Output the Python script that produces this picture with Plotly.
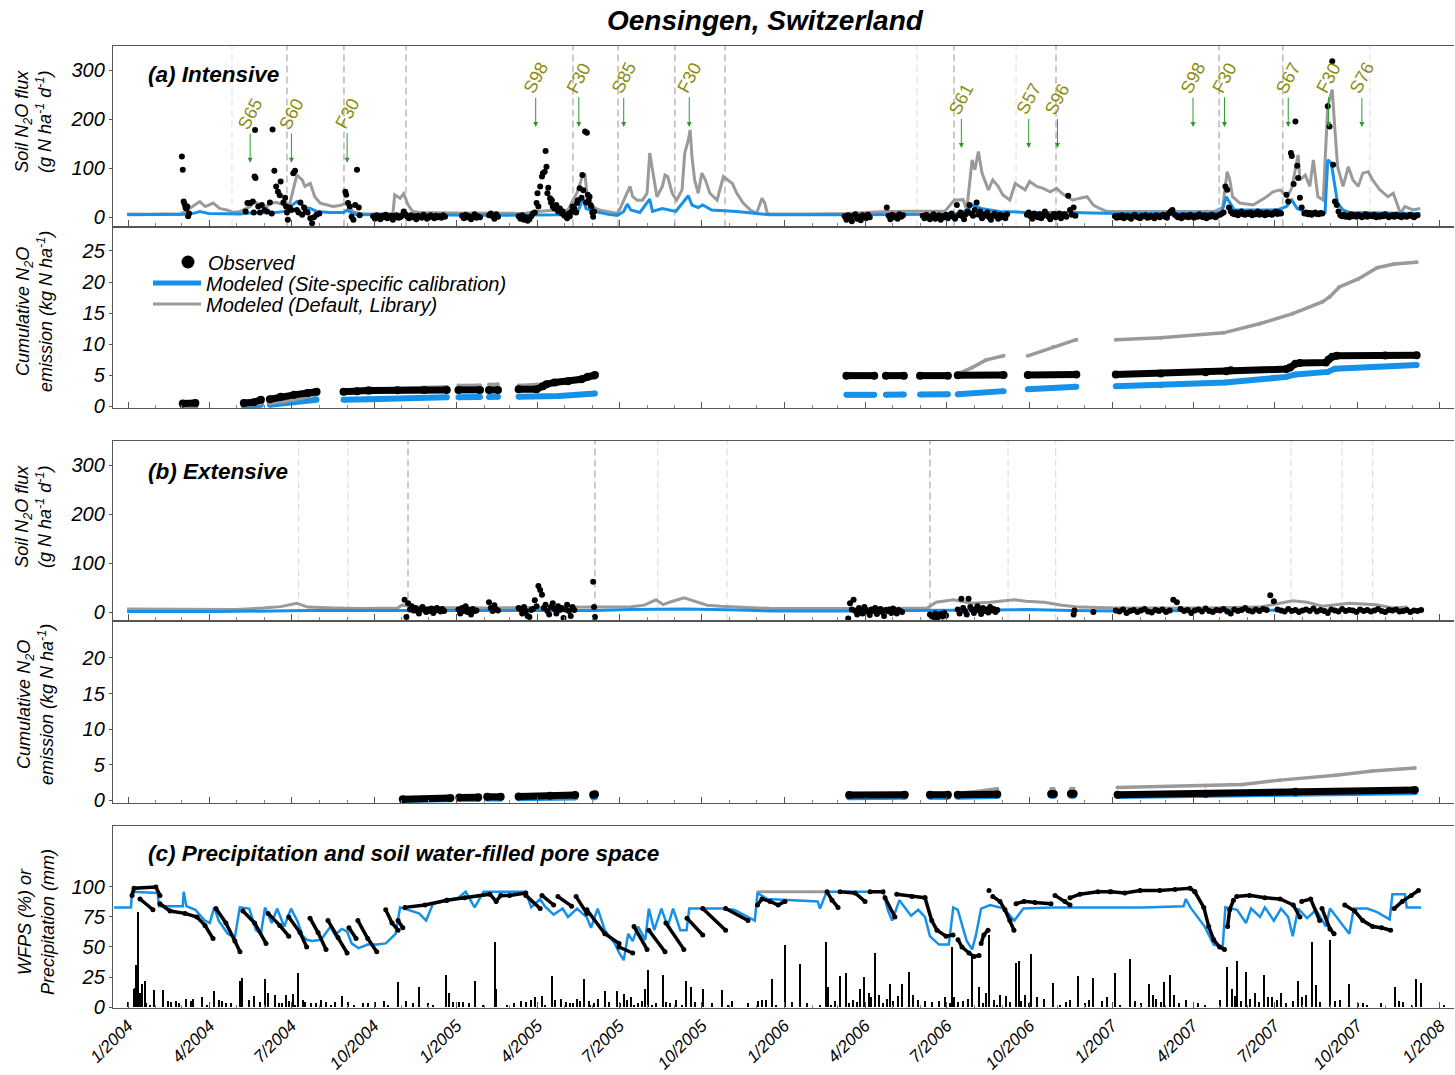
import pandas as pd
import plotly.graph_objects as go

BASE = pd.Timestamp("2004-01-01")

# ======================= DATA (x = days since 1 Jan 2004) =======================
EVENT_LABELS = ["S65", "S60", "F30", "S98", "F30", "S85", "F30", "S61", "S57", "S96",
                "S98", "F30", "S67", "F30", "S76"]
EVENT_DAYS = [136, 182, 244, 454, 502, 552, 625, 928, 1003, 1035, 1186, 1221, 1292, 1337, 1374]
EVENT_ARROW_TIP = [111, 111, 111, 184, 184, 184, 184, 141, 141, 141, 184, 184, 184, 184, 184]

A_LINES_DARK = [177, 240.5, 309.6, 495.5, 545.7, 609, 664.8, 919.8, 1033.4, 1215, 1286]
A_LINES_LIGHT = [115.8, 878.6, 988.9, 1383]
B_LINES_DARK = [311.8, 520, 893]
B_LINES_LIGHT = [190, 245, 590, 667, 980, 1033, 1295, 1352, 1386]

# ---- (a) flux, modeled default (gray)
A_DEF_DAYS = [-1, 20, 40, 58, 66, 80, 86, 95, 102, 110, 117, 125, 136, 141, 147, 155, 158, 166, 173, 180,
              188, 194, 197, 203, 208, 214, 222, 228, 236, 244, 250, 258, 266, 295, 297, 303, 307, 312, 317,
              325, 360, 400, 440, 456, 470, 490, 500, 506, 509, 512, 516, 525, 540, 545, 549, 556, 559, 562,
              567, 573, 578, 581, 585, 589, 595, 598, 601, 606, 611, 617, 620, 624, 626, 628, 631, 635, 639,
              643, 648, 656, 663, 668, 673, 678, 685, 693, 700, 706, 709, 712, 715, 760, 800, 845, 880, 910,
              920, 930, 934, 940, 943, 947, 951, 954, 958, 963, 969, 974, 982, 988, 993, 999, 1004, 1012,
              1019, 1027, 1034, 1040, 1046, 1052, 1060, 1068, 1075, 1082, 1090, 1100, 1150, 1210, 1219, 1224,
              1227, 1230, 1238, 1253, 1268, 1275, 1283, 1291, 1296, 1300, 1303, 1305, 1311, 1316, 1320, 1325,
              1331, 1336, 1341, 1344, 1347, 1353, 1359, 1364, 1370, 1375, 1381, 1386, 1394, 1403, 1409, 1417,
              1422, 1431, 1439]
A_DEF = [7, 6, 7, 6, 15, 32, 22, 29, 18, 15, 10, 12, 22, 32, 25, 22, 29, 30, 25, 27,
         86, 76, 63, 69, 42, 29, 25, 22, 24, 29, 12, 8, 7, 7, 46, 39, 48, 25, 12,
         10, 9, 8, 8, 12, 14, 15, 50, 83, 86, 30, 22, 15, 10, 8, 22, 49, 63, 42,
         35, 35, 49, 131, 90, 42, 63, 86, 83, 49, 35, 56, 131, 158, 178, 124, 76, 49, 90,
         76, 49, 35, 83, 76, 69, 49, 29, 15, 8, 39, 29, 8, 7, 7, 8, 12, 12, 13,
         35, 36, 15, 117, 97, 134, 90, 76, 56, 76, 63, 46, 35, 69, 63, 56, 73, 63,
         59, 52, 59, 49, 42, 35, 39, 42, 25, 18, 12, 12, 12, 12, 20, 93,
         76, 42, 29, 25, 42, 52, 56, 42, 60, 97, 127, 76, 86, 63, 117, 42,
         35, 226, 260, 178, 103, 63, 103, 76, 63, 90, 93, 76, 56, 42, 49, 8,
         22, 15, 18]

# ---- (a) flux, modeled site-specific (blue)
A_CAL_DAYS = [-1, 40, 66, 75, 80, 90, 110, 125, 136, 145, 160, 175, 183, 188, 192, 197, 203, 210, 225, 240,
              244, 248, 255, 300, 307, 315, 400, 450, 480, 500, 504, 506, 510, 520, 535, 545, 552, 556, 560,
              570, 581, 584, 595, 610, 624, 628, 635, 640, 650, 678, 700, 715, 800, 900, 925, 935, 940, 950,
              970, 1000, 1050, 1100, 1200, 1218, 1223, 1227, 1232, 1280, 1290, 1296, 1302, 1310, 1333, 1336,
              1340, 1344, 1347, 1353, 1360, 1439]
A_CAL = [5, 5, 6, 9, 12, 8, 8, 7, 9, 10, 9, 12, 25, 32, 28, 20, 18, 12, 10, 10,
         15, 10, 5, 6, 8, 5, 4, 4, 5, 8, 25, 42, 18, 12, 6, 4, 12, 27, 15,
         10, 37, 12, 18, 12, 44, 25, 20, 25, 15, 12, 8, 5, 5, 6, 8, 15, 25, 18,
         12, 10, 10, 8, 8, 10, 42, 29, 15, 15, 22, 35, 18, 12, 10, 117,
         110, 63, 29, 15, 10, 8]

# ---- (a) flux, observed (irregular points)
A_OBS_DAYS = [60, 61, 62, 63, 64, 65, 66, 67, 68,
              131, 133, 136, 139, 140, 141, 142, 141.5, 145, 147, 149, 152, 155, 158, 160, 161, 163, 165,
              167, 169, 170, 173, 175, 176, 177, 178, 180, 182, 184, 186, 188, 190, 192, 194, 196, 198, 200,
              203, 205, 207, 210, 213,
              242, 243, 245, 247, 249, 251, 253, 255, 257, 258,
              435, 437, 439, 441, 443, 445, 447, 449, 451, 453, 455, 456, 457, 459, 461, 462, 464, 465, 466,
              467, 468, 470, 471, 472, 473, 475, 477, 479, 481, 483, 484, 486, 488, 489, 491, 492, 494, 495,
              497, 499, 500, 501, 503, 505, 506, 507, 509, 510, 511, 512, 513, 514, 515, 516, 517, 518, 519,
              1290, 1292, 1295, 1296, 1298, 1300, 1302, 1303, 1305, 1307,
              1336, 1338, 1341, 1342, 1344, 1346, 1348]
A_OBS = [124, 97, 32, 27, 20, 18, 22, 2, 8,
         12, 29, 29, 32, 10, 83, 80, 178, 22, 10, 25, 15, 12, 30, 8, 179, 95, 63,
         52, 45, 73, 30, 40, 22, 10, -5, 20, 15, 90, 95, 15, 10, 30, 5, 20, 12, 10,
         -2, -12, 0, 5, 8,
         52, 46, 29, 22, 1, -5, 25, 97, 20, 4,
         2, -3, 4, -5, 0, -7, -4, 2, 8, 10, 29, 49, 22, 63, 83, 90, 93, 135, 103,
         49, 60, 39, 30, 35, 22, 18, 25, 12, 18, 8, 12, 3, 5, -2, 8, 2, 12, 22,
         18, 10, 29, 35, 59, 40, 86, 55, 175, 30, 172, 46, 35, 42, 25, 22, 10, 1, 12,
         46, 32, 131, 125, 68, 195, 105, 80, 40, 20,
         226, 185, 318, 107, 32, 25, 12]
# ---- (a) flux, observed (regular campaign runs: start day, step, values)
A_OBS_RUNS = [
    (273, 2, [2, -3, 4, 1, -4, 3, 0, 5, -2, 1, 3, -5, 2, 4, -1, 0, 3, 12, 6, 1, -2, 4, 0, 2, -4, 3, 1,
              -1, 5, 2, -3, 0, 4, 1, -2, 3, 0, 2, -1, 4, 1]),
    (372, 2, [3, -2, 5, 0, 2, -4, 1, 6, -1, 2, 0]),
    (402, 2, [4, 8, 2, -3, 6, 1]),
    (798, 2, [2, -5, 4, 0, -8, 3, 6, -3, 1, -6, 4, 2, -2, 5, 0]),
    (845, 2, [20, 3, -4, 5, 0, 2, -3, 6, 1, 4]),
    (885, 2, [3, -2, 5, 0, -4, 2, 6, -3, 1, 4, -5, 2, 0, 5, -2, 3, 8, 1, -3, 25, 4, 10, 2, -4, 6, 12,
              25, 8, 3, 15, 30, 5, 12, -2, 6, 3, 10, 0, -5, 4, 8, 2, -3, 5, 0, 3, -2, 6]),
    (1001, 2, [5, 10, 2, -3, 8, 4, 0, 6, -2, 3, 12, 5, 1, -4, 2, 7, 0, 4, 8, -2, 3, 6, 1, 44, 15, 5,
               20, 3]),
    (1099, 2, [2, -1, 3, 0, 4, -2, 1, 3, 0, -3, 2, 5, 1, 0, -2, 3, 2, 4, -1, 0, 3, 1, -2, 4, 2, 0, 3,
               5, 1, -1, 8, 12, 15, 6, 3, 0, 2, -2, 4, 1, 3, 0, 5, 2, -1, 3, 1, 6, 2, 0, 4, -2, 3, 1,
               5, 2, 0, 3]),
    (1216, 2, [5, 8, 10, 63, 56, 20, 12, 8, 6, 10, 4, 8, 12, 6, 5, 9, 7, 10, 4, 8, 6, 12, 5, 9, 7, 4,
               10, 6, 8, 5, 9, 12, 7, 10, 8]),
    (1310, 2, [8, 10, 6, 9, 5, 8, 10, 7, 6, 9, 8]),
    (1350, 2, [4, 2, 5, 1, 3, 0, 6, 2, 4, 1, 5, 3, 0, 2, 6, 1, 4, 3, 2, 5, 0, 3, 1, 4, 2, 6, 3, 0, 2,
               4, 1, 5, 2, 3, 0, 4, 2, 1, 3, 5, 2, 0, 3, 4]),
]

# ---- (a) cumulative (kg N/ha), None = gap between campaigns
A_CUM_OBS_DAYS = [61, 75, None, 129, 140, 148, None, 158, 170, 185, 200, 210, None, 240, 255, 267, None,
                  269, 300, 330, 355, None, 368, 392, None, 402, 412, None, 435, 455, 462, 466, 475, 490,
                  505, 512, 520, None, 800, 831, None, 844, 864, None, 882, 913, None, 924, 975, None,
                  1002, 1056, None, 1100, 1150, 1200, 1223, 1228, 1290, 1294, 1300, 1305, 1334, 1337, 1341,
                  1346, 1400, 1435]
A_CUM_OBS = [0.4, 0.5, None, 0.5, 0.6, 1.0, None, 1.1, 1.5, 1.8, 2.1, 2.3, None, 2.3, 2.4, 2.5, None,
             2.5, 2.55, 2.6, 2.6, None, 2.6, 2.6, None, 2.6, 2.6, None, 2.7, 2.7, 3.2, 3.5, 3.8, 4.0,
             4.3, 4.7, 5.0, None, 4.9, 4.9, None, 4.9, 4.9, None, 4.9, 4.9, None, 4.95, 5.0, None,
             5.0, 5.1, None, 5.1, 5.25, 5.45, 5.6, 5.75, 5.95, 6.2, 6.8, 6.95, 7.0, 7.5, 7.95,
             8.1, 8.15, 8.2]
A_CUM_CAL_DAYS = [61, 75, None, 129, 148, None, 158, 185, 210, None, 240, 267, None, 269, 355, None,
                  368, 392, None, 402, 412, None, 435, 480, 520, None, 800, 831, None, 844, 864, None,
                  882, 913, None, 924, 975, None, 1002, 1056, None, 1100, 1150, 1222, 1290, 1300, 1336,
                  1344, 1435]
A_CUM_CAL = [0.0, 0.05, None, 0.0, 0.2, None, 0.2, 0.6, 1.0, None, 1.0, 1.1, None, 1.1, 1.4, None,
             1.4, 1.45, None, 1.45, 1.5, None, 1.5, 1.6, 2.0, None, 1.8, 1.8, None, 1.8, 1.85, None,
             1.85, 1.9, None, 1.9, 2.4, None, 2.7, 3.1, None, 3.2, 3.35, 3.8, 4.7, 5.1, 5.5,
             6.0, 6.6]
A_CUM_DEF_DAYS = [61, 75, None, 129, 148, None, 158, 185, 210, None, 240, 267, None, 269, 355, None,
                  368, 392, None, 402, 412, None, 435, 455, 480, 520, None, 800, 831, None, 844, 864, None,
                  882, 913, None, 924, 940, 955, 975, None, 1002, 1030, 1056, None, 1100, 1150, 1220, 1261,
                  1297, 1330, 1338, 1349, 1370, 1391, 1410, 1435]
A_CUM_DEF = [0.0, 0.1, None, 0.2, 0.4, None, 0.4, 1.0, 1.8, None, 2.4, 2.6, None, 2.7, 3.1, None,
             3.3, 3.35, None, 3.45, 3.5, None, 3.3, 3.45, 3.9, 4.5, None, 5.0, 5.0, None, 5.0, 5.0, None,
             5.0, 5.0, None, 5.2, 6.2, 7.4, 8.1, None, 8.1, 9.5, 10.7, None, 10.7, 11.0, 11.8, 13.3,
             14.9, 16.8, 17.6, 19.2, 20.5, 22.3, 22.9, 23.2]

# ---- (b) flux, modeled
B_DEF_DAYS = [-1, 60, 120, 150, 170, 188, 200, 230, 260, 300, 305, 330, 400, 450, 500, 530, 560, 575,
              588, 596, 603, 619, 630, 645, 660, 690, 717, 800, 890, 900, 919, 940, 960, 987, 1000, 1020,
              1040, 1060, 1100, 1200, 1260, 1297, 1313, 1330, 1360, 1390, 1410, 1425]
B_DEF = [6, 5, 5, 8, 11, 18, 10, 8, 7, 8, 14, 9, 8, 9, 10, 11, 11, 14,
         25, 15, 20, 29, 22, 14, 12, 10, 7, 7, 8, 20, 25, 18, 20, 25, 22, 20,
         14, 10, 8, 8, 10, 23, 20, 12, 18, 15, 8, 10]
B_CAL_DAYS = [-1, 100, 200, 300, 400, 520, 560, 620, 680, 720, 800, 900, 950, 1000, 1050, 1100, 1200,
              1300, 1425]
B_CAL = [1, 1, 3, 3, 2, 3, 5, 6, 4, 2, 2, 3, 5, 5, 3, 2, 3, 4, 3]

B_OBS_DAYS = [518, 519, 520, 1053, 1054, 1075]
B_OBS = [62, 10, -10, -5, 3, 0]
B_OBS_RUNS = [
    (308, 2, [25, -10, 18, 5, 12, 3, 8, 2, -3, 6, 10, 4, 0, 5, 2, 7, -2, 3, 8, 4, 1, 6, 2]),
    (368, 2, [5, -3, 8, 2, 12, 0, 4, -5, 6, 2, 3]),
    (402, 2, [20, 8, 2, 14, 5, 3]),
    (435, 2, [8, 5, -3, 10, 2, -8, -10, 4, 6, 24, 12, 53, 45, 35, 8, 15, 2, -5, 10, 18, 6, -3, 12, 4, 8,
              -12, 5, 15, 2, -8, 10, 4]),
    (802, 2, [-13, 18, 5, 25, 2, -5, 8, 3, -3, 10, 4, 0, -6, 5, 2, 8, -4, 3, 6, 0, -8, 4, 2, 5, -2, 7, 1,
              -3, 4, 2, 0]),
    (893, 2, [-5, -8, -10, -3, -12, -6, -4, -9, -2, -7]),
    (924, 2, [5, -3, 27, 8, 2, -5, 27, 10, 4, -2, 6, 12, 3, -4, 8, 2, 5, -1, 10, 3, 6, 0, 4]),
    (1100, 4, [3, 1, 5, -2, 2, 4, 0, 3, 6, 1, -1, 4, 2, 5, 0, 3, 25, 20, 6, 2, 4, -2, 3, 5, 1, 7, 2, 0,
               4, 3, 6, 1, -3, 5, 2, 4, 8, 3, 1, 5, 2, 6, 4, 34, 22, 5, 3, 1, 6, 2, 4, 0, 3, 5, 2, 7, 1,
               4, 2, -2, 5, 3, 1, 6, 2, 4, 3, 0, 5, 2, 4, 1, 3, 6, 2, 0, 4, 3, 5, 1, 2, 4, 0, 3, 2, 4]),
]

# ---- (b) cumulative
B_CUM_OBS_DAYS = [306, 359, None, 369, 390, None, 400, 415, None, 435, 470, 498, None, 518, 520, None,
                  803, 865, None, 893, 913, None, 924, 968, None, 1028, 1031, None, 1050, 1053, None,
                  1102, 1200, 1300, 1433]
B_CUM_OBS = [0.1, 0.3, None, 0.35, 0.4, None, 0.45, 0.45, None, 0.5, 0.6, 0.7, None, 0.75, 0.8, None,
             0.7, 0.75, None, 0.75, 0.75, None, 0.75, 0.8, None, 0.85, 0.85, None, 0.9, 0.9, None,
             0.75, 0.9, 1.15, 1.4]
B_CUM_CAL_DAYS = [306, 359, None, 369, 390, None, 400, 415, None, 435, 498, None, 518, 520, None,
                  803, 865, None, 893, 913, None, 924, 968, None, 1028, 1031, None, 1050, 1053, None,
                  1102, 1300, 1433]
B_CUM_CAL = [0.0, 0.1, None, 0.15, 0.15, None, 0.2, 0.2, None, 0.25, 0.35, None, 0.4, 0.4, None,
             0.4, 0.45, None, 0.45, 0.45, None, 0.45, 0.55, None, 0.6, 0.6, None, 0.6, 0.6, None,
             0.55, 0.85, 1.1]
B_CUM_DEF_DAYS = [306, 359, None, 369, 390, None, 400, 415, None, 435, 498, None, 518, 520, None,
                  803, 865, None, 893, 913, None, 924, 945, 968, None, 1028, 1031, None, 1050, 1053, None,
                  1102, 1200, 1241, 1283, 1345, 1386, 1433]
B_CUM_DEF = [0.1, 0.3, None, 0.35, 0.35, None, 0.45, 0.45, None, 0.5, 0.7, None, 0.8, 0.8, None,
             0.7, 0.8, None, 0.8, 0.9, None, 0.95, 1.2, 1.6, None, 1.55, 1.55, None, 1.6, 1.6, None,
             1.75, 2.0, 2.2, 2.8, 3.5, 4.1, 4.5]

# ---- (c) WFPS (%) modeled
WFPS_CAL_DAYS = [-15.6, 3.3, 4.5, 33, 34.5, 61, 62, 65, 75, 85.5, 91, 96, 101, 111, 119, 124.5, 135, 142.5,
                 148, 152.6, 160, 166, 174, 181.5, 189, 194, 199, 205, 215, 220.5, 225.5, 230.5, 238, 244,
                 249, 256.7, 267, 277, 287, 298, 303, 324, 332, 339.6, 349.7, 355, 368, 376, 386, 396, 443,
                 449, 459, 464, 474, 484, 490, 500, 510.7, 515.6, 523, 531, 542, 547, 552, 557, 562, 568,
                 576, 580, 586, 594, 601, 607, 615, 622, 625, 635, 645, 661, 675, 690, 698, 701, 712, 768,
                 770.6, 778, 841, 846, 851, 859, 872, 880, 887.5, 893, 903, 914, 919, 924, 929, 934, 940,
                 944, 950, 960, 975.5, 987, 997, 1028, 1079, 1131, 1175.5, 1178, 1183, 1188, 1199, 1209,
                 1219, 1222, 1235, 1245, 1250.6, 1260.6, 1266, 1276, 1284, 1292, 1297, 1303, 1313, 1323,
                 1334, 1338.5, 1349, 1360, 1365, 1380, 1391, 1405, 1408, 1422, 1424, 1440]
WFPS_CAL = [83, 83, 96, 95, 84, 84, 96, 84, 81, 72, 70, 83, 72, 61, 58, 83, 82, 64,
            61, 83, 70, 82, 67, 82, 71, 60, 56, 55, 56, 62, 67, 60, 65, 63,
            53, 49, 52, 52, 53, 61, 83, 78, 72, 86, 88, 89, 91, 96, 83, 96, 96,
            83, 90, 84, 77, 82, 75, 82, 75, 66, 82, 64, 53, 45, 39, 61, 55, 67,
            56, 82, 64, 82, 67, 82, 64, 64, 82, 82, 82, 82, 81, 75, 72, 95, 90, 88,
            82, 96, 96, 81, 72, 89, 76, 81, 75, 59, 52, 52, 83, 81, 67, 55, 48,
            59, 82, 85, 82, 72, 82, 83, 83, 83, 84, 90, 83, 78, 67, 52,
            50, 83, 81, 70, 82, 75, 83, 72, 82, 75, 59, 82, 74, 81,
            67, 82, 72, 61, 82, 82, 79, 73, 94, 94, 83, 83]
WFPS_DEF_DAYS = [701, 778]
WFPS_DEF = [96, 96]

# ---- (c) WFPS (%) observed, None = break between dry-down sequences
WFPS_OBS_DAYS = [4.5, 6.7, 31, 35.6, None, 13.4, 27.8, None, 35.6, 46.8, 63.5, 76.8, 85.7, 94.7, None,
                 98, 109, 119, 124.7, None, 128, 141, 153.7, None, 156, 169, 179, None, 179, 191.5, 199, None,
                 202.7, 211.6, 220.5, None, 222.7, 233.9, 244, None, 246, 254, None, 256, 267, 277, None,
                 287, 294, 300.7, None, 300.7, 306, None, 308.5, 330.7, 355, None,
                 355, 375, 403, 410, 415, 425, 443, None, 443, 459, None, 461, 474, None, 478.8, 494, None,
                 499, 511, None, 511, 531, 546.8, None, 546.8, 562, None, 563.5, 578, None, 580, 598, None,
                 599, 619, None, 622.5, 640, None, 640, 665.5, None, 665.5, 690.4, None,
                 701, 706, 715, 724, 731.6, None, 778.4, 784, 790.7, None, 793, 809.6, 820.7, None,
                 826.3, 840.8, None, 843, 854, None, 856, 873, 887.5, None, 887.5, 895, 900.9, 910.9, 918.7,
                 None, 924.3, 928.7, 936.5, 942, 947.7, None, 950, 953, 957.7, None, 958.8, None,
                 963, 971, 976.6, 982, 986.6, None, 988.9, 997.8, 1010, 1027.8, None, 1032.3, 1043.4, 1049,
                 None, 1049, 1060, 1080, 1093.5, None, 1094.7, 1110, 1127, 1149, 1166, 1182.6, 1188, None,
                 1188, 1198, 1203.5, 1209, 1215.6, 1221, None, 1224.5, 1226.8, 1231, None,
                 1234.6, 1249, 1266, 1283, 1297.6, 1305, None, 1307, 1317, 1327, None, 1329.6, 1338.5, 1343,
                 None, 1355, 1366, 1375, 1386, 1396, 1406, None, 1410, 1419, 1429, 1437]
WFPS_OBS = [93, 99, 100, 93, None, 90, 81, None, 86, 80, 78, 75, 68, 57, None,
            82, 70, 55, 46, None, 80, 70, 53, None, 78, 68, 59, None, 75, 62, 50, None,
            74, 62, 48, None, 72, 58, 45, None, 66, 57, None, 72, 57, 46, None,
            81, 70, 64, None, 72, 66, None, 83, 85, 89, None,
            89, 91, 94, 88, 93, 93, 95, None, 93, 82, None, 93, 85, None, 92, 84, None,
            92, 78, None, 81, 61, 53, None, 50, 45, None, 67, 48, None, 64, 46, None,
            70, 48, None, 74, 60, None, 82, 64, None, 82, 72, None,
            85, 90, 88, 85, 88, None, 96, 89, 83, None, 96, 95, 88, None,
            96, 96, None, 91, 75, None, 94, 92, 91, None, 91, 72, 64, 59, 60,
            None, 56, 50, 45, 42, 43, None, 53, 60, 64, None, 97, None,
            92, 88, 81, 72, 64, None, 86, 88, 87, 86, None, 93, 88, 85,
            None, 91, 94, 96, 96, None, 96, 95, 97, 97, 98, 99, 96, None,
            96, 83, 67, 56, 50, 48, None, 67, 81, 89, None,
            92, 93, 91, 90, 85, 75, None, 88, 90, 72, None, 82, 65, 61,
            None, 85, 80, 72, 67, 66, 64, None, 82, 88, 93, 97]

# ---- (c) daily precipitation (mm)
PRECIP_DAYS = [0, 6.7, 7.8, 8.9, 11, 13.4, 15.6, 19, 29, 39, 44.5, 53.5, 64.6, 70, 72, 82.4, 95.8, 101, 109,
               124.7, 127, 141, 152.6, 156, 163.7, 168, 176, 183.7, 189, 195, 204, 220.5, 230.5, 238,
               251.7, 267, 275, 285, 300.7, 324, 334, 354, 357.5, 368.6, 373, 386, 408.7, 410, 422, 443,
               448.8, 453, 461, 472, 482, 492, 500, 507.8, 513, 519, 531, 544.5, 552, 560, 568, 575.7,
               579, 583.5, 595.8, 603.6, 621, 627, 640, 661.5, 672.6, 701.6, 706, 710.5, 717, 731.6,
               748.3, 770.6, 777, 779.5, 793, 799.7, 815.3, 819.7, 825, 832, 836, 848.6, 862, 869.7, 874,
               887.5, 903, 909.8, 917.6, 924.3, 940, 947.7, 955.5, 958.8, 971, 988.9, 992, 999, 1005.6,
               1012, 1030, 1049, 1058, 1074.6, 1084.7, 1099, 1116, 1137, 1141.5, 1153.7, 1160.4, 1164.8,
               1178, 1191.6, 1223.8, 1229.4, 1235, 1245, 1255, 1265, 1274, 1284, 1303, 1307, 1318.5,
               1323, 1338.5, 1344, 1360, 1369.7, 1375, 1411, 1415.6, 1434, 1440, 1465.5,
               20, 25, 48, 57, 88, 105, 115, 135, 147, 172, 179, 186, 197, 210, 215, 226, 245, 262, 290,
               310, 318, 340, 362, 380, 395, 430, 438, 465, 476, 488, 496, 504, 515, 524, 536, 548, 556,
               564, 572, 588, 599, 610, 617, 632, 650, 668, 690, 722, 740, 756, 783, 787, 803, 808, 812,
               828, 841, 845, 852, 858, 880, 895, 915, 920, 930, 935, 952, 965, 968, 978, 982, 995, 1003,
               1020, 1038, 1045, 1066, 1070, 1090, 1105, 1122, 1128, 1145, 1150, 1170, 1200, 1216, 1233,
               1240, 1250, 1260, 1270, 1280, 1290, 1298, 1312, 1328, 1350, 1380, 1395, 1420, 1430]
PRECIP_MM = [4, 15, 16, 35, 79, 12, 19, 22, 14, 14, 5, 5, 7, 5, 7, 8, 13, 6, 3,
             22, 24, 9, 23, 12, 10, 3, 10, 11, 28, 6, 3, 4, 4, 9,
             2, 3, 4, 5, 21, 17, 3, 27, 12, 4, 4, 22, 54, 15, 2, 4,
             6, 8, 9, 26, 7, 3, 7, 23, 5, 3, 13, 13, 11, 8, 3, 15,
             31, 2, 27, 3, 22, 17, 15, 14, 5, 5, 6, 6, 23, 52,
             36, 2, 54, 17, 26, 28, 15, 25, 12, 45, 10, 19, 19, 29, 10,
             5, 5, 8, 50, 4, 43, 17, 12, 60, 10, 37, 38, 10, 44,
             8, 20, 6, 26, 24, 5, 28, 40, 19, 10, 21, 27, 10,
             6, 3, 33, 15, 38, 29, 12, 27, 8, 12, 22, 8, 54,
             18, 56, 5, 19, 3, 3, 17, 5, 23, 20, 2,
             3, 2, 4, 3, 2, 5, 3, 6, 4, 3, 5, 2, 4, 3, 6, 2, 4, 3, 2,
             5, 3, 2, 4, 3, 2, 3, 5, 2, 6, 4, 3, 5, 2, 7, 4, 3, 6,
             2, 5, 3, 4, 6, 2, 4, 3, 2, 3, 2, 4, 3, 2, 5, 3, 6,
             4, 8, 3, 7, 5, 9, 6, 4, 3, 8, 5, 7, 3, 6, 2, 9, 4,
             5, 3, 7, 2, 4, 3, 6, 8, 2, 5, 3, 7, 4, 3, 2, 6, 9,
             5, 7, 4, 8, 6, 3, 5, 10, 4, 6, 2, 3, 4, 2, 5]

# ======================= HELPERS =======================
def to_dates(days):
    return [None if d is None else BASE + pd.Timedelta(days=float(d)) for d in days]


def expand_runs(runs):
    xs, ys = [], []
    for start, step, vals in runs:
        for i, v in enumerate(vals):
            xs.append(start + i * step)
            ys.append(v)
    return xs, ys


# ======================= STYLE / LAYOUT CONSTANTS =======================
W, H = 1455, 1075
ML, MR, MT, MB = 113, 1, 46, 67
PH = H - MT - MB
PW = W - ML - MR
FONT = "Arial, Liberation Sans, sans-serif"
BLUE = "#1591ea"
GRAY = "#9a9a9a"
AXC = "#555555"


def py(p):   # pixel row -> paper y
    return (H - MB - p) / PH


def px(p):   # pixel column -> paper x
    return (p - ML) / PW


X0 = BASE + pd.Timedelta(days=-16.7)
X1 = BASE + pd.Timedelta(days=1476.6)

fig = go.Figure()

# ---------- panel (a) flux ----------
fig.add_trace(go.Scatter(x=to_dates(A_DEF_DAYS), y=A_DEF, mode="lines", line=dict(color=GRAY, width=3),
                         xaxis="x", yaxis="y", showlegend=False))
fig.add_trace(go.Scatter(x=to_dates(A_CAL_DAYS), y=A_CAL, mode="lines", line=dict(color=BLUE, width=3),
                         xaxis="x", yaxis="y", showlegend=False))
rx, ry = expand_runs(A_OBS_RUNS)
fig.add_trace(go.Scatter(x=to_dates(A_OBS_DAYS + rx), y=A_OBS + ry, mode="markers",
                         marker=dict(color="black", size=6), xaxis="x", yaxis="y", showlegend=False))

# ---------- panel (a) cumulative ----------
fig.add_trace(go.Scatter(x=to_dates(A_CUM_CAL_DAYS), y=A_CUM_CAL, mode="lines+markers",
                         line=dict(color=BLUE, width=6), marker=dict(color=BLUE, size=6),
                         xaxis="x2", yaxis="y2", showlegend=False))
fig.add_trace(go.Scatter(x=to_dates(A_CUM_DEF_DAYS), y=A_CUM_DEF, mode="lines+markers",
                         line=dict(color=GRAY, width=3.5), marker=dict(color=GRAY, size=4),
                         xaxis="x2", yaxis="y2", showlegend=False))
fig.add_trace(go.Scatter(x=to_dates(A_CUM_OBS_DAYS), y=A_CUM_OBS, mode="lines+markers",
                         line=dict(color="black", width=7), marker=dict(color="black", size=8),
                         xaxis="x2", yaxis="y2", showlegend=False))

# ---------- panel (b) flux ----------
fig.add_trace(go.Scatter(x=to_dates(B_DEF_DAYS), y=B_DEF, mode="lines", line=dict(color=GRAY, width=3),
                         xaxis="x3", yaxis="y3", showlegend=False))
fig.add_trace(go.Scatter(x=to_dates(B_CAL_DAYS), y=B_CAL, mode="lines", line=dict(color=BLUE, width=3),
                         xaxis="x3", yaxis="y3", showlegend=False))
rx, ry = expand_runs(B_OBS_RUNS)
fig.add_trace(go.Scatter(x=to_dates(B_OBS_DAYS + rx), y=B_OBS + ry, mode="markers",
                         marker=dict(color="black", size=6), xaxis="x3", yaxis="y3", showlegend=False))

# ---------- panel (b) cumulative ----------
fig.add_trace(go.Scatter(x=to_dates(B_CUM_CAL_DAYS), y=B_CUM_CAL, mode="lines+markers",
                         line=dict(color=BLUE, width=6), marker=dict(color=BLUE, size=6),
                         xaxis="x4", yaxis="y4", showlegend=False))
fig.add_trace(go.Scatter(x=to_dates(B_CUM_DEF_DAYS), y=B_CUM_DEF, mode="lines+markers",
                         line=dict(color=GRAY, width=3.5), marker=dict(color=GRAY, size=4),
                         xaxis="x4", yaxis="y4", showlegend=False))
fig.add_trace(go.Scatter(x=to_dates(B_CUM_OBS_DAYS), y=B_CUM_OBS, mode="lines+markers",
                         line=dict(color="black", width=7), marker=dict(color="black", size=8),
                         xaxis="x4", yaxis="y4", showlegend=False))

# ---------- panel (c) ----------
fig.add_trace(go.Bar(x=to_dates(PRECIP_DAYS), y=PRECIP_MM, width=86400000 * 1.4,
                     marker=dict(color="black", line=dict(width=0)),
                     xaxis="x5", yaxis="y5", showlegend=False))
fig.add_trace(go.Scatter(x=to_dates(WFPS_DEF_DAYS), y=WFPS_DEF, mode="lines", line=dict(color=GRAY, width=3),
                         xaxis="x5", yaxis="y5", showlegend=False))
fig.add_trace(go.Scatter(x=to_dates(WFPS_CAL_DAYS), y=WFPS_CAL, mode="lines", line=dict(color=BLUE, width=2.5),
                         xaxis="x5", yaxis="y5", showlegend=False))
fig.add_trace(go.Scatter(x=to_dates(WFPS_OBS_DAYS), y=WFPS_OBS, mode="lines+markers",
                         line=dict(color="black", width=3.5), marker=dict(color="black", size=5),
                         xaxis="x5", yaxis="y5", showlegend=False))

# ---------- legend proxies (one legend per row for exact spacing) ----------
fig.add_trace(go.Scatter(x=[None], y=[None], mode="markers", marker=dict(color="black", size=13),
                         name="Observed", xaxis="x2", yaxis="y2", legend="legend"))
fig.add_trace(go.Scatter(x=[None], y=[None], mode="lines", line=dict(color=BLUE, width=5),
                         name="Modeled (Site-specific calibration)", xaxis="x2", yaxis="y2", legend="legend2"))
fig.add_trace(go.Scatter(x=[None], y=[None], mode="lines", line=dict(color=GRAY, width=3),
                         name="Modeled (Default, Library)", xaxis="x2", yaxis="y2", legend="legend3"))

# ---------- axes ----------
domains = [
    [py(226.5), 1.0],
    [py(408), py(226.5)],
    [py(620.5), py(441)],
    [py(803), py(620.5)],
    [0.0, py(826)],
]
yranges = [[-18.7, 348.9], [-0.32, 28.95], [-17.3, 349], [-0.42, 25.28], [-0.83, 150.8]]
ytickvals = [[0, 100, 200, 300], [0, 5, 10, 15, 20, 25], [0, 100, 200, 300], [0, 5, 10, 15, 20],
             [0, 25, 50, 75, 100]]

LEGFONT = dict(family=FONT, size=20, style="italic", color="black")
layout = dict(
    template="none",
    width=W, height=H, margin=dict(l=ML, r=MR, t=MT, b=MB, autoexpand=False),
    paper_bgcolor="white", plot_bgcolor="white",
    font=dict(family=FONT, color="black"),
    hovermode=False, bargap=0,
    legend=dict(x=px(168), y=py(262), xanchor="left", yanchor="middle", bgcolor="rgba(0,0,0,0)",
                font=LEGFONT, itemwidth=30, borderwidth=0),
    legend2=dict(x=px(148), y=py(283), xanchor="left", yanchor="middle", bgcolor="rgba(0,0,0,0)",
                 font=LEGFONT, itemwidth=48, borderwidth=0),
    legend3=dict(x=px(148), y=py(304), xanchor="left", yanchor="middle", bgcolor="rgba(0,0,0,0)",
                 font=LEGFONT, itemwidth=48, borderwidth=0),
)
for i in range(5):
    xs = "xaxis" if i == 0 else f"xaxis{i + 1}"
    ys = "yaxis" if i == 0 else f"yaxis{i + 1}"
    yid = "y" if i == 0 else f"y{i + 1}"
    layout[xs] = dict(
        type="date", range=[X0, X1], anchor=yid, domain=[0, 1], automargin=False,
        showline=True, linecolor=AXC, linewidth=1.3, mirror=True,
        ticks="inside", ticklen=6, tickcolor=AXC, tickwidth=1,
        dtick="M3", tick0="2004-01-01",
        minor=dict(ticks="inside", ticklen=3, tickcolor="#888888", dtick="M1", tick0="2004-01-01"),
        showgrid=False, zeroline=False,
        showticklabels=(i == 4), tickformat="%-m/%Y", tickangle=-45,
        tickfont=dict(family=FONT, size=17, style="italic", color="black"),
    )
    if i > 0:
        layout[xs]["matches"] = "x"
    layout[ys] = dict(
        domain=domains[i], range=yranges[i], anchor="x" if i == 0 else f"x{i + 1}", automargin=False,
        showline=True, linecolor=AXC, linewidth=1.3,
        ticks="outside", ticklen=3, tickcolor=AXC,
        tickvals=ytickvals[i], showgrid=False, zeroline=False,
        tickfont=dict(family=FONT, size=20, style="italic", color="black"),
    )

# ---------- management lines ----------
shapes = []
for d in A_LINES_DARK:
    shapes.append(dict(type="line", xref="x", yref="y domain", x0=BASE + pd.Timedelta(days=d),
                       x1=BASE + pd.Timedelta(days=d), y0=0, y1=1, layer="below",
                       line=dict(color="#a8a8a8", width=1.2, dash="7px,4px")))
for d in A_LINES_LIGHT:
    shapes.append(dict(type="line", xref="x", yref="y domain", x0=BASE + pd.Timedelta(days=d),
                       x1=BASE + pd.Timedelta(days=d), y0=0, y1=1, layer="below",
                       line=dict(color="#e2e2e2", width=1.2, dash="7px,4px")))
for d in B_LINES_DARK:
    shapes.append(dict(type="line", xref="x3", yref="y3 domain", x0=BASE + pd.Timedelta(days=d),
                       x1=BASE + pd.Timedelta(days=d), y0=0, y1=1, layer="below",
                       line=dict(color="#a8a8a8", width=1.2, dash="7px,4px")))
for d in B_LINES_LIGHT:
    shapes.append(dict(type="line", xref="x3", yref="y3 domain", x0=BASE + pd.Timedelta(days=d),
                       x1=BASE + pd.Timedelta(days=d), y0=0, y1=1, layer="below",
                       line=dict(color="#dedede", width=1.2, dash="7px,4px")))
layout["shapes"] = shapes

# ---------- annotations ----------
ann = []
ann.append(dict(text="<b><i>Oensingen, Switzerland</i></b>", xref="paper", yref="paper",
                x=px(765), y=py(20), xanchor="center", yanchor="middle", showarrow=False,
                font=dict(family=FONT, size=28, color="black")))
for label, ypix in [("(a) Intensive", 74), ("(b) Extensive", 471),
                    ("(c) Precipitation and soil water-filled pore space", 853)]:
    ann.append(dict(text=f"<b><i>{label}</i></b>", xref="paper", yref="paper", x=px(146), y=py(ypix),
                    xanchor="left", yanchor="middle", showarrow=False,
                    font=dict(family=FONT, size=22.5, color="black")))
ytitles = [
    ("Soil N<sub>2</sub>O flux<br>(g N ha<sup>-1</sup> d<sup>-1</sup>)", 33, 122),
    ("Cumulative N<sub>2</sub>O<br>emission (kg N ha<sup>-1</sup>)", 35, 312),
    ("Soil N<sub>2</sub>O flux<br>(g N ha<sup>-1</sup> d<sup>-1</sup>)", 33, 517),
    ("Cumulative N<sub>2</sub>O<br>emission (kg N ha<sup>-1</sup>)", 35, 705),
    ("WFPS (%) or<br>Precipitation (mm)", 37, 922),
]
for t, xp, yp in ytitles:
    ann.append(dict(text=f"<i>{t}</i>", xref="paper", yref="paper", x=px(xp), y=py(yp), textangle=-90,
                    xanchor="center", yanchor="middle", showarrow=False,
                    font=dict(family=FONT, size=18, color="black")))
for lab, d, tip in zip(EVENT_LABELS, EVENT_DAYS, EVENT_ARROW_TIP):
    xd = BASE + pd.Timedelta(days=d)
    ann.append(dict(text=lab, x=xd, y=tip, xref="x", yref="y", ax=0, ay=-49, showarrow=True,
                    arrowhead=2, arrowsize=1, arrowwidth=1, arrowcolor="#2e9a2e", standoff=0,
                    textangle=-62, font=dict(family=FONT, size=18, color="#8c8c10")))
layout["annotations"] = ann

fig.update_layout(**layout)
fig.write_html("out.html")
